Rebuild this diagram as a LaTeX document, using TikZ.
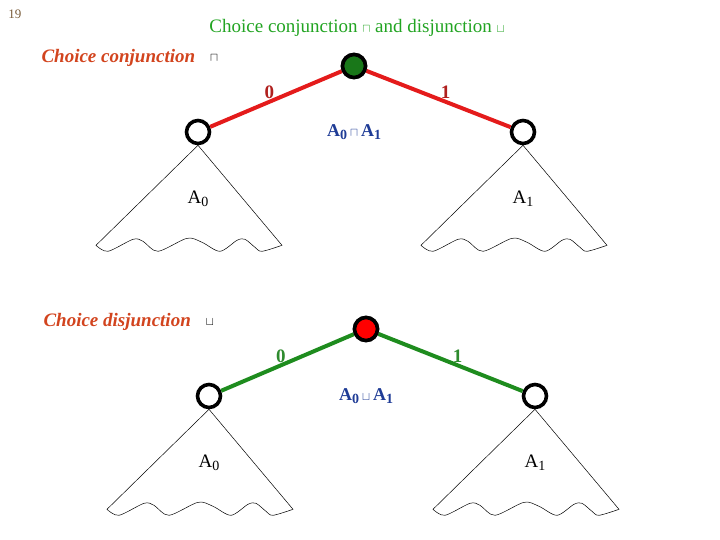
\documentclass[tikz,border=0pt]{standalone}
\usepackage{fontspec}
\setmainfont{Liberation Serif}
\usetikzlibrary{positioning}
\definecolor{title}{HTML}{22A422}
\definecolor{head}{HTML}{D2441E}
\definecolor{edgered}{HTML}{E41B1B}
\definecolor{edgegreen}{HTML}{1E8C1E}
\definecolor{lblred}{HTML}{B0201E}
\definecolor{lblgreen}{HTML}{2E8B2E}
\definecolor{ink}{HTML}{1F3C96}
\definecolor{pagenum}{HTML}{7A5C3A}
\tikzset{
  state/.style={circle,draw=black,line width=3.6pt,minimum size=23pt,inner sep=0pt,fill=white},
  branch/.style={line width=4pt},
  bit/.style={font=\fontsize{19}{20}\selectfont\bfseries,inner sep=1pt},
  heading/.style={text=head,anchor=west,font=\fontsize{19}{22}\selectfont\bfseries\itshape},
  combo/.style={text=ink,font=\fontsize{18}{20}\selectfont\bfseries},
  sub/.style={font=\fontsize{19}{20}\selectfont}
}
\newcommand\low[1]{\raisebox{-0.35ex}{\fontsize{14}{15}\selectfont #1}}
\newcommand\opsym[1]{{\fontsize{13}{14}\selectfont$#1$}}
% fan below a node: two sides and a wavy base
\newcommand\fan[1]{%
  \draw[line width=0.5pt,shift={(#1.south)}] (0,0) -- (-102,100)
    -- plot[smooth] coordinates {(-102,100) (-90,106) (-65,94) (-55,96) (-40,106)
       (-11,93) (4,97) (22,106) (39,95) (47,94) (57,102) (64,106) (84,100)}
    -- cycle;}

\begin{document}
\begin{tikzpicture}[x=1pt,y=-1pt]
  \useasboundingbox (0,0) rectangle (720,540);
  \node[text=pagenum,font=\fontsize{13}{15}\selectfont] (page) at (15,14) {19};
  \node[text=title,font=\fontsize{19}{22}\selectfont] (title) at (357,28)
    {Choice conjunction \opsym{\sqcap} and disjunction \opsym{\sqcup}};

  % choice conjunction
  \node[heading] (headC) at (38,58) {Choice conjunction};
  \node[right=8pt of headC] (symC) {\opsym{\sqcap}};
  \node[state,fill=edgegreen!85!black] (rootC) at (354,66) {};
  \node[state] (leftC) at (198,132) {};
  \node[state] (rightC) at (523,132) {};
  \draw[branch,edgered] (rootC) -- node[bit,text=lblred,pos=0.55,above] {0} (leftC);
  \draw[branch,edgered] (rootC) -- node[bit,text=lblred,pos=0.55,above] {1} (rightC);
  \node[state,fill=edgegreen!85!black] at (rootC) {};
  \node[combo] (opC) at (rootC |- leftC)
    {A\low{\bfseries 0}\,\opsym{\sqcap}\,A\low{\bfseries 1}};
  \fan{leftC}
  \fan{rightC}
  \node[sub,below=42pt of leftC] (subC0) {A\low{0}};
  \node[sub,below=42pt of rightC] (subC1) {A\low{1}};

  % choice disjunction
  \node[heading] (headD) at (40,322) {Choice disjunction};
  \node[right=8pt of headD] (symD) {\opsym{\sqcup}};
  \node[state,fill=red] (rootD) at (366,329) {};
  \node[state] (leftD) at (209,396) {};
  \node[state] (rightD) at (535,396) {};
  \draw[branch,edgegreen] (rootD) -- node[bit,text=lblgreen,pos=0.55,above] {0} (leftD);
  \draw[branch,edgegreen] (rootD) -- node[bit,text=lblgreen,pos=0.55,above] {1} (rightD);
  \node[state,fill=red] at (rootD) {};
  \node[combo] (opD) at (rootD |- leftD)
    {A\low{\bfseries 0}\,\opsym{\sqcup}\,A\low{\bfseries 1}};
  \fan{leftD}
  \fan{rightD}
  \node[sub,below=42pt of leftD] (subD0) {A\low{0}};
  \node[sub,below=42pt of rightD] (subD1) {A\low{1}};
\end{tikzpicture}
\end{document}
